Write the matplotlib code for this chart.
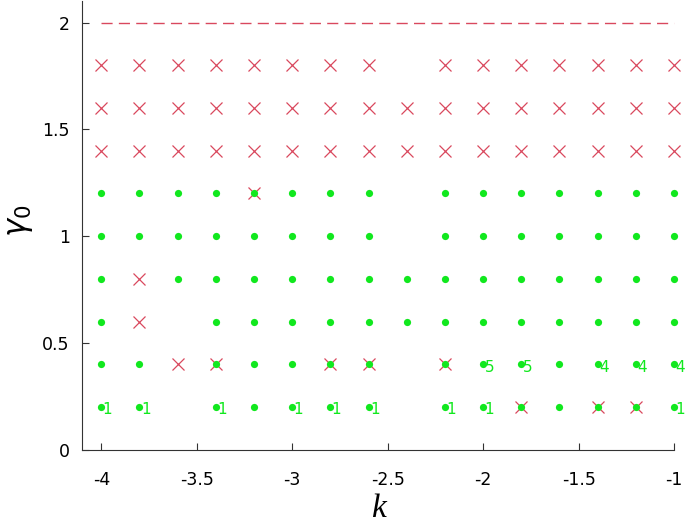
import matplotlib
matplotlib.use("Agg")
import matplotlib.pyplot as plt

# ---- data ----
k_values = [-4.0, -3.8, -3.6, -3.4, -3.2, -3.0, -2.8, -2.6,
            -2.4, -2.2, -2.0, -1.8, -1.6, -1.4, -1.2, -1.0]

# green dots (stable) per gamma row
green_rows = {
    1.2: [k for k in k_values if k != -2.4],
    1.0: [k for k in k_values if k != -2.4],
    0.8: [k for k in k_values if k != -3.8],
    0.6: [k for k in k_values if k not in (-3.8, -3.6)],
    0.4: [k for k in k_values if k not in (-3.6, -2.4)],
    0.2: [k for k in k_values if k not in (-3.6, -2.4)],
}

# red crosses (unstable) per gamma row
red_rows = {
    1.8: [k for k in k_values if k != -2.4],
    1.6: list(k_values),
    1.4: list(k_values),
    1.2: [-3.2],
    0.8: [-3.8],
    0.6: [-3.8],
    0.4: [-3.6, -3.4, -2.8, -2.6, -2.2],
    0.2: [-1.8, -1.4, -1.2],
}

# small text annotations
label_k = [-2.0, -1.8, -1.4, -1.2, -1.0,
           -4.0, -3.8, -3.4, -3.0, -2.8, -2.6, -2.2, -2.0, -1.0]
label_g = [0.4, 0.4, 0.4, 0.4, 0.4,
           0.2, 0.2, 0.2, 0.2, 0.2, 0.2, 0.2, 0.2, 0.2]
label_txt = ["5", "5", "4", "4", "4",
             "1", "1", "1", "1", "1", "1", "1", "1", "1"]

limit_gamma = 2.0
x_ticks = [-4, -3.5, -3, -2.5, -2, -1.5, -1]
x_tick_labels = ["-4", "-3.5", "-3", "-2.5", "-2", "-1.5", "-1"]
y_ticks = [0, 0.5, 1, 1.5, 2]
y_tick_labels = ["0", "0.5", "1", "1.5", "2"]

RED = "#d9485e"
GREEN = "#11e81e"

fig = plt.figure(figsize=(6.85, 5.25), dpi=100)
ax = fig.add_axes([0.12, 0.143, 0.864, 0.856])

# dashed limit line
ax.plot([k_values[0], k_values[-1]], [limit_gamma, limit_gamma],
        color=RED, lw=1.0, dashes=(8, 4.5), clip_on=False)

for g, ks in red_rows.items():
    ax.plot(ks, [g] * len(ks), linestyle="none", marker="x", ms=9,
            mew=0.9, color=RED, clip_on=False, zorder=3)

for g, ks in green_rows.items():
    ax.plot(ks, [g] * len(ks), linestyle="none", marker="o", ms=5.2,
            mew=0, color=GREEN, clip_on=False, zorder=4)

for k, g, t in zip(label_k, label_g, label_txt):
    ax.annotate(t, (k, g), xytext=(1, -2), textcoords="offset points",
                ha="left", va="center", fontsize=11, color=GREEN,
                zorder=5, annotation_clip=False)

ax.set_xlim(-4.1, -1.0)
ax.set_ylim(0, 2.103)
ax.spines["top"].set_visible(False)
ax.spines["right"].set_visible(False)
ax.spines["left"].set_color("#333333")
ax.spines["bottom"].set_color("#333333")

ax.set_xticks(x_ticks)
ax.set_xticklabels(x_tick_labels)
ax.set_yticks(y_ticks)
ax.set_yticklabels(y_tick_labels)
ax.tick_params(axis="x", direction="in", length=5, pad=15, labelsize=12.5,
               color="#333333")
ax.tick_params(axis="y", direction="in", length=5, pad=9, labelsize=12.5,
               color="#333333")

ax.set_xlabel("k", fontsize=24, va="center", family="Liberation Serif",
              style="italic")
ax.set_ylabel(r"$\gamma_0$", fontsize=22, va="center")
ax.xaxis.set_label_coords(0.50, -0.13)
ax.yaxis.set_label_coords(-0.105, 0.51)

fig.savefig("out.png", dpi=100)
